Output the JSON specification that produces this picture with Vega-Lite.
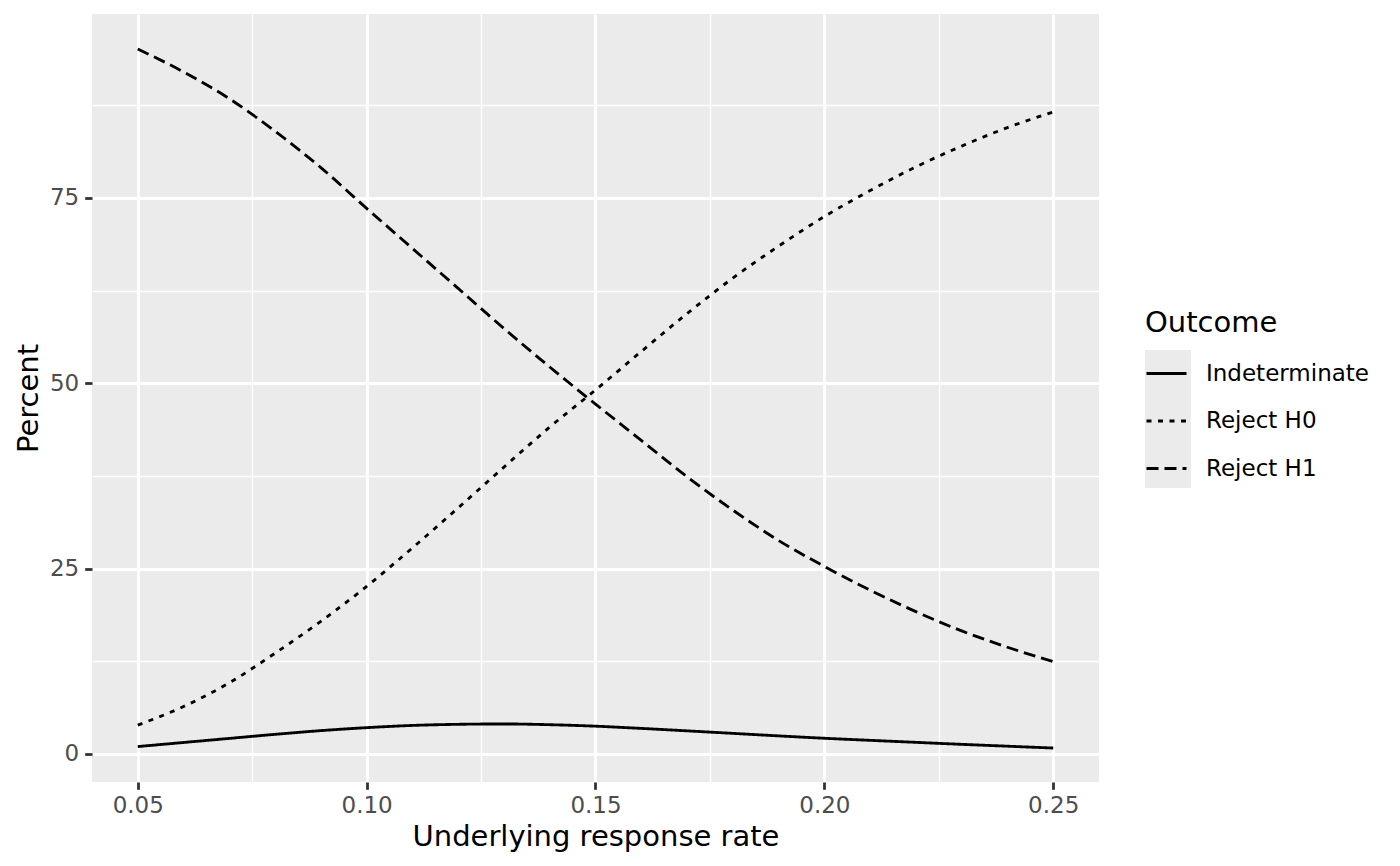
{
  "$schema": "https://vega.github.io/schema/vega-lite/v6.json",
  "width": 1007,
  "height": 768,
  "autosize": "none",
  "padding": {"left": 92, "top": 14, "right": 301, "bottom": 84},
  "background": "white",
  "view": {"fill": "#EBEBEB", "stroke": null},
  "config": {
    "font": "DejaVu Sans",
    "view": {"fill": "#EBEBEB", "stroke": null}
  },
  "datasets": {
    "curves": [
      {"rate": 0.05, "Indeterminate": 1.0, "Reject H0": 3.9, "Reject H1": 95.1},
      {"rate": 0.06, "Indeterminate": 1.55, "Reject H0": 6.4, "Reject H1": 92.0},
      {"rate": 0.07, "Indeterminate": 2.1, "Reject H0": 9.6, "Reject H1": 88.4},
      {"rate": 0.08, "Indeterminate": 2.65, "Reject H0": 13.6, "Reject H1": 84.0},
      {"rate": 0.09, "Indeterminate": 3.15, "Reject H0": 17.9, "Reject H1": 79.1},
      {"rate": 0.10, "Indeterminate": 3.55, "Reject H0": 22.6, "Reject H1": 73.6},
      {"rate": 0.11, "Indeterminate": 3.85, "Reject H0": 27.8, "Reject H1": 68.2},
      {"rate": 0.12, "Indeterminate": 4.0, "Reject H0": 33.2, "Reject H1": 62.8},
      {"rate": 0.13, "Indeterminate": 4.05, "Reject H0": 38.7, "Reject H1": 57.4},
      {"rate": 0.14, "Indeterminate": 3.95, "Reject H0": 44.1, "Reject H1": 52.2},
      {"rate": 0.15, "Indeterminate": 3.75, "Reject H0": 49.1, "Reject H1": 47.2},
      {"rate": 0.16, "Indeterminate": 3.45, "Reject H0": 54.3, "Reject H1": 42.3},
      {"rate": 0.17, "Indeterminate": 3.12, "Reject H0": 59.4, "Reject H1": 37.4},
      {"rate": 0.18, "Indeterminate": 2.78, "Reject H0": 64.2, "Reject H1": 32.9},
      {"rate": 0.19, "Indeterminate": 2.44, "Reject H0": 68.5, "Reject H1": 28.8},
      {"rate": 0.20, "Indeterminate": 2.12, "Reject H0": 72.5, "Reject H1": 25.3},
      {"rate": 0.21, "Indeterminate": 1.84, "Reject H0": 76.0, "Reject H1": 22.1},
      {"rate": 0.22, "Indeterminate": 1.57, "Reject H0": 79.2, "Reject H1": 19.2},
      {"rate": 0.23, "Indeterminate": 1.3, "Reject H0": 82.0, "Reject H1": 16.6},
      {"rate": 0.24, "Indeterminate": 1.05, "Reject H0": 84.5, "Reject H1": 14.4},
      {"rate": 0.25, "Indeterminate": 0.8, "Reject H0": 86.6, "Reject H1": 12.45}
    ],
    "keys": [
      {"Key": "Indeterminate"},
      {"Key": "Reject H0"},
      {"Key": "Reject H1"}
    ]
  },
  "layer": [
    {
      "data": {"name": "curves"},
      "transform": [
        {"fold": ["Indeterminate", "Reject H0", "Reject H1"], "as": ["Outcome", "Percent"]}
      ],
      "mark": {"type": "line", "color": "black", "strokeWidth": 2.85, "interpolate": "monotone"},
      "encoding": {
        "x": {
          "field": "rate",
          "type": "quantitative",
          "scale": {"domain": [0.04, 0.26], "nice": false, "zero": false},
          "axis": {
            "orient": "bottom",
            "title": "Underlying response rate",
            "titleFontSize": 29,
            "titleFontWeight": "normal",
            "titleColor": "black",
            "titlePadding": 5,
            "values": [0.05, 0.1, 0.15, 0.2, 0.25],
            "format": ".2f",
            "labelFontSize": 23,
            "labelColor": "#4D4D4D",
            "labelPadding": 5.5,
            "labelFlush": false,
            "labelOverlap": false,
            "tickSize": 7.3,
            "tickWidth": 2.8,
            "tickColor": "#333333",
            "domain": false,
            "grid": true,
            "gridColor": "white",
            "gridWidth": 2.8
          }
        },
        "y": {
          "field": "Percent",
          "type": "quantitative",
          "scale": {"domain": [-3.78, 99.82], "nice": false, "zero": false},
          "axis": {
            "orient": "left",
            "title": "Percent",
            "titleFontSize": 29,
            "titleFontWeight": "normal",
            "titleColor": "black",
            "titlePadding": 6,
            "values": [0, 25, 50, 75],
            "labelFontSize": 23,
            "labelColor": "#4D4D4D",
            "labelPadding": 6,
            "labelFlush": false,
            "labelOverlap": false,
            "tickSize": 7.3,
            "tickWidth": 2.8,
            "tickColor": "#333333",
            "domain": false,
            "grid": true,
            "gridColor": "white",
            "gridWidth": 2.8
          }
        },
        "strokeDash": {
          "field": "Outcome",
          "type": "nominal",
          "scale": {
            "domain": ["Indeterminate", "Reject H0", "Reject H1"],
            "range": [[1, 0], [5, 6.5], [12, 6]]
          },
          "legend": {
            "orient": "none",
            "legendX": 1053,
            "legendY": 295,
            "padding": 0,
            "zindex": 1,
            "title": "Outcome",
            "titleFontSize": 29,
            "titleFontWeight": "normal",
            "titleColor": "black",
            "titlePadding": 14,
            "labelFontSize": 23,
            "labelColor": "black",
            "labelLimit": 400,
            "labelOffset": 18,
            "symbolType": "stroke",
            "symbolSize": 1600,
            "symbolStrokeWidth": 2.85,
            "symbolStrokeColor": "black",
            "rowPadding": 13.5
          }
        }
      }
    },
    {
      "data": {"name": "curves"},
      "mark": {"type": "point", "opacity": 0},
      "encoding": {
        "x": {
          "field": "rate",
          "type": "quantitative",
          "axis": {
            "orient": "top",
            "title": null,
            "values": [0.075, 0.125, 0.175, 0.225],
            "labels": false,
            "ticks": false,
            "domain": false,
            "grid": true,
            "gridColor": "white",
            "gridWidth": 1.4
          }
        },
        "y": {
          "field": "Indeterminate",
          "type": "quantitative",
          "axis": {
            "orient": "right",
            "title": null,
            "values": [12.5, 37.5, 62.5, 87.5],
            "labels": false,
            "ticks": false,
            "domain": false,
            "grid": true,
            "gridColor": "white",
            "gridWidth": 1.4
          }
        }
      }
    },
    {
      "data": {"name": "keys"},
      "mark": {"type": "point", "opacity": 0, "filled": true},
      "encoding": {
        "fill": {
          "field": "Key",
          "type": "nominal",
          "scale": {"range": ["#EBEBEB", "#EBEBEB", "#EBEBEB"]},
          "legend": {
            "orient": "none",
            "legendX": 1053,
            "legendY": 336,
            "padding": 0,
            "zindex": 0,
            "title": null,
            "labelExpr": "''",
            "symbolType": "square",
            "symbolSize": 2116,
            "symbolStrokeWidth": 0,
            "symbolOpacity": 1,
            "rowPadding": 0
          }
        }
      }
    }
  ]
}
